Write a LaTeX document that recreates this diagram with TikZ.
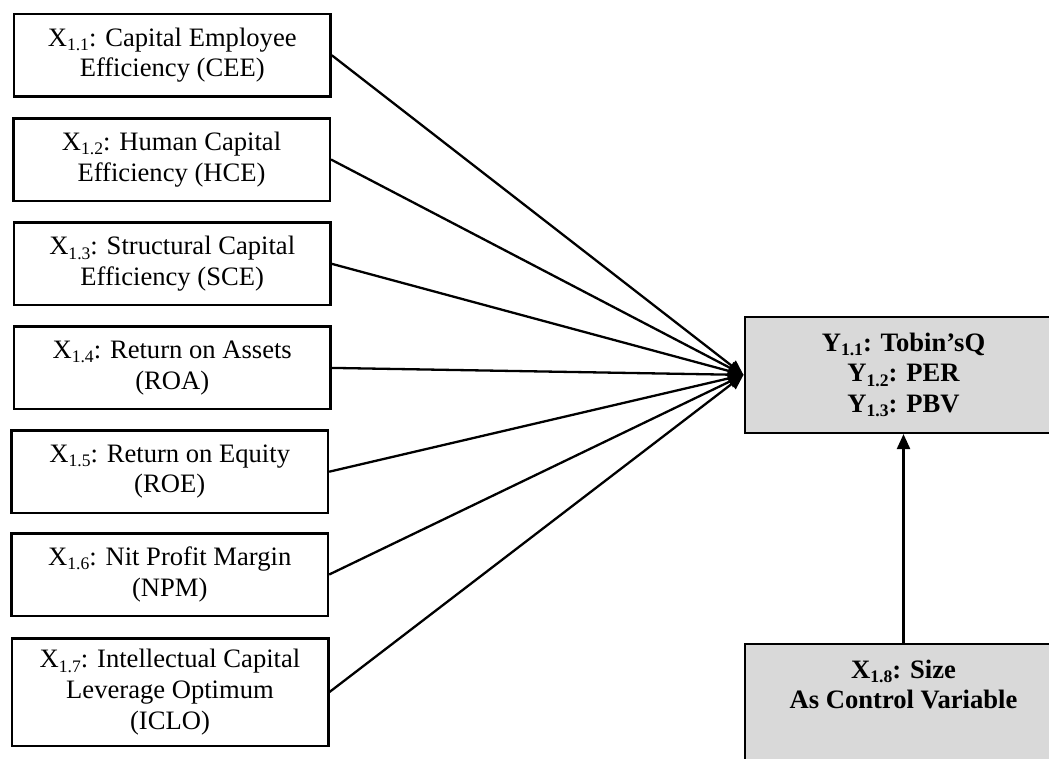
\documentclass[tikz,border=0pt]{standalone}
\usepackage{fontspec}
\setmainfont{Liberation Serif}
\usetikzlibrary{arrows.meta}
\definecolor{boxgrey}{HTML}{D9D9D9}
\newcommand\sbs[1]{\raisebox{-0.16em}{\fontsize{17.6}{18}\selectfont #1}}
\begin{document}
\begin{tikzpicture}[x=1pt,y=-1pt,
  every node/.style={font=\fontsize{26.6}{30.6}\selectfont},
  xbox/.style={draw, line width=2.5pt, minimum width=316.5pt, minimum height=82.5pt, align=center, inner sep=0pt},
  greybox/.style={draw, line width=2.5pt, fill=boxgrey, minimum width=317.5pt, align=center, inner sep=0pt, font=\fontsize{26.6}{30.6}\selectfont\bfseries},
  boldtext/.style={align=center, inner sep=0pt, font=\fontsize{26.6}{30.6}\selectfont\bfseries},
  link/.style={line width=2.3pt, -{Triangle[length=15pt,width=13pt]}}
]
\clip (0,0) rectangle (1049,758);
\node[xbox] (b1) at (172.2,55.2) {X\sbs{1.1}: Capital Employee\\Efficiency (CEE)};
\node[xbox] (b2) at (171.5,159.5) {X\sbs{1.2}: Human Capital\\Efficiency (HCE)};
\node[xbox] (b3) at (172.2,263.8) {X\sbs{1.3}: Structural Capital\\Efficiency (SCE)};
\node[xbox] (b4) at (172.2,367.9) {X\sbs{1.4}: Return on Assets\\(ROA)};
\node[xbox] (b5) at (169.7,471.7) {X\sbs{1.5}: Return on Equity\\(ROE)};
\node[xbox] (b6) at (169.7,574.5) {X\sbs{1.6}: Nit Profit Margin\\(NPM)};
\node[xbox, minimum height=107.5pt] (b7) at (170,692) {X\sbs{1.7}: Intellectual Capital\\Leverage Optimum\\(ICLO)};
\node[greybox, minimum height=115.8pt] (y) at (903.5,374.9) {Y\sbs{1.1}: Tobin’sQ\\Y\sbs{1.2}: PER\\Y\sbs{1.3}: PBV};
\node[greybox, minimum height=150pt, anchor=north] (ctrl) at (903.5,642.7) {};
\node[boldtext, anchor=north] (ctrltext) at (903.5,659.5) {X\sbs{1.8}: Size\\As Control Variable};
\foreach \b in {b1,b2,b3,b4,b5,b6,b7}
  \draw[link] (\b.east) -- (y.west);
\draw[link] (ctrl.north) -- (y.south);
\end{tikzpicture}
\end{document}
